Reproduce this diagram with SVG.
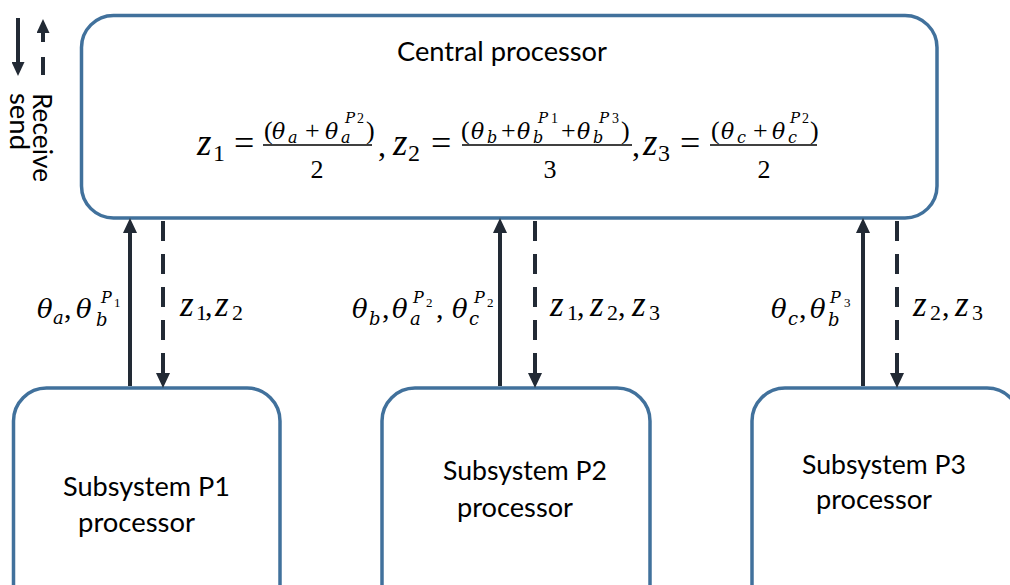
<svg xmlns="http://www.w3.org/2000/svg" width="1010" height="585" viewBox="0 0 1010 585">
  <style>
    .box { fill: #ffffff; stroke: #41719C; stroke-width: 3.5; }
    .lbl { font-family: Lato, "Open Sans", "Liberation Sans", sans-serif; font-size: 26.5px; fill: #000000; }
    .mi { font-family: "DejaVu Serif", "Liberation Serif", serif; font-style: italic; fill: #000000; }
    .mz { font-family: "Liberation Serif", "DejaVu Serif", serif; font-style: italic; fill: #000000; }
    .mu { font-family: "Liberation Serif", "DejaVu Serif", serif; font-style: normal; fill: #000000; }
    .bar { stroke: #000000; stroke-width: 1.5; }
    .solid { stroke: #222A35; stroke-width: 4; fill: none; }
    .dash { stroke: #222A35; stroke-width: 4; fill: none; stroke-dasharray: 20 13; }
  </style>
  <defs>
    <marker id="head" markerUnits="userSpaceOnUse" viewBox="0 -7 15 14" markerWidth="15" markerHeight="14" refX="0" refY="0" orient="auto">
      <path d="M0,-7 L15,0 L0,7 Z" fill="#222A35"/>
    </marker>
    <marker id="headS" markerUnits="userSpaceOnUse" viewBox="0 -6.5 14 13" markerWidth="14" markerHeight="13" refX="0" refY="0" orient="auto">
      <path d="M0,-6.5 L14,0 L0,6.5 Z" fill="#222A35"/>
    </marker>
  </defs>

  <!-- legend: receive / send -->
  <g id="legend">
    <line class="solid" x1="18" y1="18" x2="18" y2="62" marker-end="url(#headS)"/>
    <line class="solid" x1="43" y1="75" x2="43" y2="33" stroke-dasharray="18 15" marker-end="url(#headS)"/>
    <text class="lbl" transform="rotate(90)" x="93" y="-33" textLength="89" lengthAdjust="spacingAndGlyphs">Receive</text>
    <text class="lbl" transform="rotate(90)" x="93" y="-10" textLength="57" lengthAdjust="spacingAndGlyphs">send</text>
  </g>

  <!-- central processor -->
  <g id="central">
    <rect class="box" x="81.5" y="15.5" width="855.5" height="202.5" rx="32" ry="32"/>
    <text class="lbl" x="397" y="61" textLength="210" lengthAdjust="spacingAndGlyphs">Central processor</text>
    <text>
      <tspan class="mz" font-size="37" x="197" y="155">z</tspan>
      <tspan class="mu" font-size="24" x="213" y="161">1</tspan>
      <tspan class="mu" font-size="36" x="234" y="155">=</tspan>
    </text>
    <line class="bar" x1="263" y1="145" x2="372" y2="145"/>
    <text>
      <tspan class="mu" font-size="26" x="264" y="139">(</tspan>
      <tspan class="mi" font-size="22" x="272" y="139">θ</tspan>
      <tspan class="mi" font-size="16" x="288" y="143">a</tspan>
      <tspan class="mu" font-size="26" x="305" y="139">+</tspan>
      <tspan class="mi" font-size="22" x="325" y="139">θ</tspan>
      <tspan class="mi" font-size="16" x="341" y="143">a</tspan>
      <tspan class="mi" font-size="15" x="345" y="123">P</tspan>
      <tspan class="mu" font-size="14" x="357" y="123">2</tspan>
      <tspan class="mu" font-size="26" x="366" y="139">)</tspan>
    </text>
    <text class="mu" font-size="26" x="317" y="178" text-anchor="middle">2</text>
    <text class="mu" font-size="32" x="378" y="156">,</text>

    <text>
      <tspan class="mz" font-size="37" x="393" y="155">z</tspan>
      <tspan class="mu" font-size="24" x="408" y="161">2</tspan>
      <tspan class="mu" font-size="36" x="431" y="155">=</tspan>
    </text>
    <line class="bar" x1="462" y1="145" x2="632" y2="145"/>
    <text>
      <tspan class="mu" font-size="26" x="461" y="139">(</tspan>
      <tspan class="mi" font-size="22" x="471" y="139">θ</tspan>
      <tspan class="mi" font-size="16" x="487" y="143">b</tspan>
      <tspan class="mu" font-size="26" x="501" y="139">+</tspan>
      <tspan class="mi" font-size="22" x="517" y="139">θ</tspan>
      <tspan class="mi" font-size="16" x="533" y="143">b</tspan>
      <tspan class="mi" font-size="15" x="538" y="123">P</tspan>
      <tspan class="mu" font-size="14" x="551" y="123">1</tspan>
      <tspan class="mu" font-size="26" x="561" y="139">+</tspan>
      <tspan class="mi" font-size="22" x="577" y="139">θ</tspan>
      <tspan class="mi" font-size="16" x="593" y="143">b</tspan>
      <tspan class="mi" font-size="15" x="599" y="123">P</tspan>
      <tspan class="mu" font-size="14" x="612" y="123">3</tspan>
      <tspan class="mu" font-size="26" x="621" y="139">)</tspan>
    </text>
    <text class="mu" font-size="26" x="550" y="178" text-anchor="middle">3</text>
    <text class="mu" font-size="32" x="632" y="156">,</text>

    <text>
      <tspan class="mz" font-size="37" x="643" y="155">z</tspan>
      <tspan class="mu" font-size="24" x="658" y="161">3</tspan>
      <tspan class="mu" font-size="36" x="680" y="155">=</tspan>
    </text>
    <line class="bar" x1="710" y1="145" x2="817" y2="145"/>
    <text>
      <tspan class="mu" font-size="26" x="711" y="139">(</tspan>
      <tspan class="mi" font-size="22" x="721" y="139">θ</tspan>
      <tspan class="mi" font-size="16" x="737" y="143">c</tspan>
      <tspan class="mu" font-size="26" x="753" y="139">+</tspan>
      <tspan class="mi" font-size="22" x="772" y="139">θ</tspan>
      <tspan class="mi" font-size="16" x="788" y="143">c</tspan>
      <tspan class="mi" font-size="15" x="790" y="123">P</tspan>
      <tspan class="mu" font-size="14" x="802" y="123">2</tspan>
      <tspan class="mu" font-size="26" x="810" y="139">)</tspan>
    </text>
    <text class="mu" font-size="26" x="764" y="178" text-anchor="middle">2</text>
  </g>

  <!-- subsystem processors -->
  <g id="p1">
    <rect class="box" x="13.5" y="388" width="266.5" height="240" rx="33" ry="33"/>
    <text class="lbl" x="63" y="496" textLength="167" lengthAdjust="spacingAndGlyphs">Subsystem P1</text>
    <text class="lbl" x="78" y="532" textLength="117" lengthAdjust="spacingAndGlyphs">processor</text>
  </g>
  <g id="p2">
    <rect class="box" x="382" y="388" width="268" height="240" rx="33" ry="33"/>
    <text class="lbl" x="443" y="480" textLength="164" lengthAdjust="spacingAndGlyphs">Subsystem P2</text>
    <text class="lbl" x="457" y="517" textLength="116" lengthAdjust="spacingAndGlyphs">processor</text>
  </g>
  <g id="p3">
    <rect class="box" x="752" y="388" width="268" height="240" rx="33" ry="33"/>
    <text class="lbl" x="802" y="474" textLength="164" lengthAdjust="spacingAndGlyphs">Subsystem P3</text>
    <text class="lbl" x="816" y="509" textLength="116" lengthAdjust="spacingAndGlyphs">processor</text>
  </g>

  <!-- connectors: solid = send up, dashed = receive down -->
  <g id="connectors">
    <line class="solid" x1="130" y1="386" x2="130" y2="233" marker-end="url(#head)"/>
    <line class="dash" x1="163" y1="221" x2="163" y2="373" marker-end="url(#head)"/>
    <line class="solid" x1="500" y1="386" x2="500" y2="233" marker-end="url(#head)"/>
    <line class="dash" x1="535" y1="221" x2="535" y2="373" marker-end="url(#head)"/>
    <line class="solid" x1="863" y1="386" x2="863" y2="233" marker-end="url(#head)"/>
    <line class="dash" x1="897" y1="221" x2="897" y2="373" marker-end="url(#head)"/>
  </g>

  <!-- connector labels -->
  <g id="labels">
    <text>
      <tspan class="mi" font-size="26" x="37" y="318">θ</tspan>
      <tspan class="mi" font-size="18" x="53" y="324">a</tspan>
      <tspan class="mu" font-size="30" x="64" y="318">,</tspan>
      <tspan class="mi" font-size="26" x="76" y="318">θ</tspan>
      <tspan class="mi" font-size="18" x="96" y="326">b</tspan>
      <tspan class="mi" font-size="16" x="101" y="303">P</tspan>
      <tspan class="mu" font-size="13" x="114" y="307">1</tspan>
    </text>
    <text>
      <tspan class="mz" font-size="35" x="180" y="316">z</tspan>
      <tspan class="mu" font-size="22" x="196" y="320">1</tspan>
      <tspan class="mu" font-size="30" x="205" y="316">,</tspan>
      <tspan class="mz" font-size="35" x="215" y="316">z</tspan>
      <tspan class="mu" font-size="22" x="232" y="320">2</tspan>
    </text>

    <text>
      <tspan class="mi" font-size="26" x="352" y="318">θ</tspan>
      <tspan class="mi" font-size="18" x="369" y="325">b</tspan>
      <tspan class="mu" font-size="30" x="382" y="318">,</tspan>
      <tspan class="mi" font-size="26" x="392" y="318">θ</tspan>
      <tspan class="mi" font-size="18" x="410" y="325">a</tspan>
      <tspan class="mi" font-size="16" x="413" y="303">P</tspan>
      <tspan class="mu" font-size="13" x="426" y="307">2</tspan>
      <tspan class="mu" font-size="30" x="436" y="318">,</tspan>
      <tspan class="mi" font-size="26" x="452" y="318">θ</tspan>
      <tspan class="mi" font-size="18" x="469" y="325">c</tspan>
      <tspan class="mi" font-size="16" x="474" y="303">P</tspan>
      <tspan class="mu" font-size="13" x="487" y="307">2</tspan>
    </text>
    <text>
      <tspan class="mz" font-size="35" x="550" y="316">z</tspan>
      <tspan class="mu" font-size="22" x="567" y="320">1</tspan>
      <tspan class="mu" font-size="30" x="577" y="316">,</tspan>
      <tspan class="mz" font-size="35" x="590" y="316">z</tspan>
      <tspan class="mu" font-size="22" x="607" y="320">2</tspan>
      <tspan class="mu" font-size="30" x="618" y="316">,</tspan>
      <tspan class="mz" font-size="35" x="632" y="316">z</tspan>
      <tspan class="mu" font-size="22" x="649" y="320">3</tspan>
    </text>

    <text>
      <tspan class="mi" font-size="26" x="771" y="318">θ</tspan>
      <tspan class="mi" font-size="18" x="788" y="325">c</tspan>
      <tspan class="mu" font-size="30" x="799" y="318">,</tspan>
      <tspan class="mi" font-size="26" x="810" y="318">θ</tspan>
      <tspan class="mi" font-size="18" x="828" y="326">b</tspan>
      <tspan class="mi" font-size="16" x="830" y="303">P</tspan>
      <tspan class="mu" font-size="13" x="844" y="307">3</tspan>
    </text>
    <text>
      <tspan class="mz" font-size="35" x="913" y="316">z</tspan>
      <tspan class="mu" font-size="22" x="930" y="320">2</tspan>
      <tspan class="mu" font-size="30" x="942" y="316">,</tspan>
      <tspan class="mz" font-size="35" x="955" y="316">z</tspan>
      <tspan class="mu" font-size="22" x="972" y="320">3</tspan>
    </text>
  </g>
</svg>
